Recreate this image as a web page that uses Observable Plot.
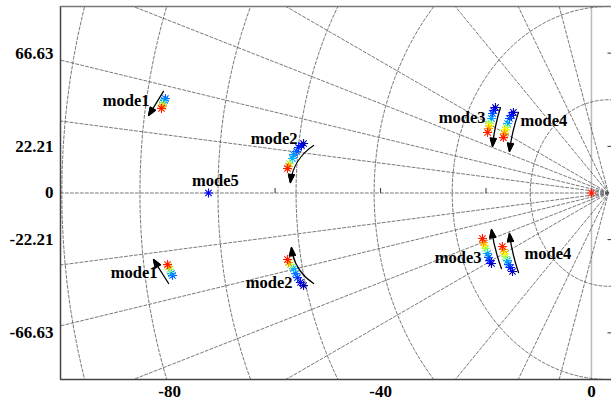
<!DOCTYPE html>
<html><head><meta charset="utf-8">
<script src="https://cdn.jsdelivr.net/npm/d3@7"></script>
<script src="https://cdn.jsdelivr.net/npm/@observablehq/plot@0.6"></script>
<style>body{margin:0;background:#fff} svg{display:block}</style>
</head><body><div id="chart"></div>
<script>
// ---- axes / grid settings ----
const xTicks = [-80, -40, 0];
const yTicks = [66.63, 22.21, 0, -22.21, -66.63];
const zeroLineTicks = [-60, -40, -20];
const xDomain = [-100.7, 3.8];
const yDomain = [-88.84, 88.84];
const wnStep = 14.807;            // natural-frequency circle spacing
const wnLevels = [1, 2, 3, 4, 5, 6, 7];
const dampingRatios = [0.3, 0.5, 0.7, 0.9, 0.95, 0.98, 0.994, 1];
const gridCenterX = 3.2;
const gridYRatio = 3;

// ---- trails: [real, imag, gain] (gain drives the colour) ----
const mode1Upper = [[-81.55,40.3,0.85],[-81.36,41.2,0.7],[-81.36,42.2,0.55],[-81.17,43.1,0.3],[-80.98,44.1,0.26],[-80.8,45.0,0.22]];
const mode1Lower = [[-80.4,-34.1,0.85],[-80.2,-35.0,0.7],[-80.0,-36.4,0.5],[-79.65,-38.4,0.27],[-79.46,-39.3,0.22]];
const mode2Upper = [[-57.65,11.65,0.85],[-57.46,12.6,0.72],[-57.27,14.05,0.55],[-56.7,16.4,0.3],[-56.5,18.3,0.26],[-55.9,19.8,0.2],[-55.56,21.7,0.15],[-55.0,22.6,0.09],[-54.6,23.6,0.04]];
const mode2Lower = [[-57.65,-31.7,0.85],[-57.46,-33.1,0.72],[-57.1,-34.1,0.55],[-56.5,-36.0,0.3],[-56.1,-38.4,0.24],[-55.75,-40.3,0.17],[-55.2,-42.6,0.09],[-54.6,-44.1,0.04]];
const mode3Upper = [[-19.7,28.8,0.85],[-19.5,30.7,0.72],[-19.35,32.2,0.62],[-19.35,33.1,0.5],[-18.96,35.5,0.28],[-18.77,37.9,0.2],[-18.6,39.3,0.12],[-18.2,40.7,0.05]];
const mode4Upper = [[-16.7,26.4,0.85],[-16.5,28.3,0.72],[-16.3,30.3,0.62],[-16.12,31.2,0.5],[-15.93,33.1,0.28],[-15.55,35.5,0.2],[-15.17,36.9,0.12],[-14.8,38.4,0.05]];
const mode3Lower = [[-20.67,-21.7,0.85],[-20.48,-23.6,0.72],[-20.3,-25.0,0.62],[-20.1,-26.4,0.5],[-19.7,-28.8,0.28],[-19.5,-30.7,0.2],[-19.35,-32.2,0.12],[-18.96,-33.6,0.05]];
const mode4Lower = [[-16.9,-25.5,0.85],[-16.7,-26.9,0.72],[-16.5,-28.8,0.62],[-16.3,-30.3,0.5],[-15.93,-32.2,0.28],[-15.74,-34.1,0.2],[-15.36,-35.5,0.12],[-14.98,-37.4,0.05]];
const mode5 = [[-72.63, 0, 0.12]];
const originPole = [[0, 0, 0.85]];

// ---- arrows: [x1, y1, x2, y2] grouped by curvature ----
const arrowsStraight = [
  [-81.17, 48.4, -84.0, 36.9],
  [-80.2, -43.1, -83.06, -31.7]
];
const arrowsCurvedA = [[-52.7, 22.6, -57.1, 5.0]];
const arrowsCurvedB = [[-52.7, -43.1, -56.9, -26.0]];
const arrowsSlightA = [[-17.26, 40.7, -18.77, 22.2], [-13.84, 38.4, -15.55, 19.8]];
const arrowsSlightB = [[-17.07, -36.0, -18.96, -17.4], [-13.84, -37.9, -15.55, -19.3]];

// ---- labels ----
const labelsLeft = [["mode1",-83.8,44.1],["mode1",-82.3,-37.9],["mode2",-55.75,26.0],["mode2",-56.7,-42.6],["mode5",-66.9,6.0],["mode3",-20.1,36.0],["mode3",-20.86,-30.7]];
const labelsRight = [["mode4",-13.46,34.5],["mode4",-12.7,-28.8]];

// ---------------------------------------------------------------
const points = [mode1Upper, mode1Lower, mode2Upper, mode2Lower, mode3Upper, mode4Upper, mode3Lower, mode4Lower, mode5, originPole]
  .flat().map(([x, y, g]) => ({x, y, g})).sort((a, b) => a.g - b.g);

const arcs = [];
for (const k of wnLevels) {
  const r = k * wnStep;
  for (let i = 0; i <= 360; i += 2) {
    const a = i * Math.PI / 180;
    arcs.push({k, x: gridCenterX + r * Math.cos(a), y: gridYRatio * r * Math.sin(a)});
  }
}
const rays = [];
dampingRatios.forEach((z, i) => {
  const th = Math.acos(z);
  for (const s of (z === 1 ? [1] : [1, -1])) {
    const id = i + "_" + s;
    rays.push({id, x: gridCenterX, y: 0});
    rays.push({id, x: gridCenterX - 300 * Math.cos(th), y: s * gridYRatio * 300 * Math.sin(th)});
  }
});

const asterisk = {draw(ctx, size) {
  const r = Math.sqrt(size / Math.PI), d = r * Math.SQRT1_2;
  ctx.moveTo(-r, 0); ctx.lineTo(r, 0);
  ctx.moveTo(0, -r); ctx.lineTo(0, r);
  ctx.moveTo(-d, -d); ctx.lineTo(d, d);
  ctx.moveTo(-d, d); ctx.lineTo(d, -d);
}};
const vTick = {draw(ctx, size) { const r = Math.sqrt(size / Math.PI); ctx.moveTo(0, -r); ctx.lineTo(0, 0); }};
const hTick = {draw(ctx, size) { const r = Math.sqrt(size / Math.PI); ctx.moveTo(-r, 0); ctx.lineTo(0, 0); }};

const jet = d3.scaleLinear()
  .domain([0, 0.125, 0.375, 0.625, 0.875, 1])
  .range(["#00007f", "#0000ff", "#00ffff", "#ffff00", "#ff0000", "#7f0000"]);

const gridStyle = {stroke: "#555", strokeWidth: 0.8, strokeDasharray: "3,2", clip: true};
const arrowOpts = bend => ({x1: d => d[0], y1: d => d[1], x2: d => d[2], y2: d => d[3], bend, stroke: "black", strokeWidth: 1.3, headLength: 10, headAngle: 40});

const chart = Plot.plot({
  width: 611, height: 403,
  marginLeft: 60, marginRight: 0, marginTop: 6, marginBottom: 24,
  x: {domain: xDomain, label: null},
  y: {domain: yDomain, label: null},
  color: {type: "linear", domain: [0, 1], interpolate: jet},
  style: {fontFamily: "'Liberation Serif', 'Times New Roman', serif", fontSize: "17px", color: "black", background: "white"},
  marks: [
    Plot.ruleX([0], {stroke: "#bbb", strokeWidth: 1.5}),
    Plot.line(arcs, {x: "x", y: "y", z: "k", curve: "linear", ...gridStyle}),
    Plot.line(rays, {x: "x", y: "y", z: "id", ...gridStyle}),
    Plot.dot(zeroLineTicks, {x: d => d, y: 0, symbol: vTick, r: 5, stroke: "#333", strokeWidth: 1}),
    Plot.dot(yTicks.filter(d => d !== 0), {x: xDomain[1], y: d => d, symbol: hTick, r: 4, stroke: "#333", strokeWidth: 1}),
    Plot.ruleX([xDomain[0]], {stroke: "#444", strokeWidth: 1.5}),
    Plot.ruleY([yDomain[0]], {stroke: "#444", strokeWidth: 1.5}),
    Plot.ruleY([yDomain[1]], {stroke: "#777", strokeWidth: 1.5}),
    Plot.arrow(arrowsStraight, arrowOpts(0)),
    Plot.arrow(arrowsCurvedA, arrowOpts(-25)),
    Plot.arrow(arrowsCurvedB, arrowOpts(25)),
    Plot.arrow(arrowsSlightA, arrowOpts(-6)),
    Plot.arrow(arrowsSlightB, arrowOpts(6)),
    Plot.dot(points, {x: "x", y: "y", stroke: "g", symbol: asterisk, r: 4.5, strokeWidth: 1.1}),
    Plot.text(labelsLeft, {x: d => d[1], y: d => d[2], text: d => d[0], textAnchor: "end", fontWeight: "bold", fontSize: 16.5}),
    Plot.text(labelsRight, {x: d => d[1], y: d => d[2], text: d => d[0], textAnchor: "start", fontWeight: "bold", fontSize: 16.5}),
    Plot.axisX(xTicks, {tickSize: 0, tickPadding: 5, tickFormat: d => String(d), fontWeight: "bold", label: null}),
    Plot.axisY(yTicks, {tickSize: 0, tickPadding: 7, tickFormat: d => String(d), fontWeight: "bold", label: null})
  ]
});
// fill the arrow heads (solid triangles)
chart.querySelectorAll('g[aria-label="arrow"] path').forEach(p => {
  const d = p.getAttribute("d");
  const i = d.lastIndexOf("M");
  if (i > 0) {
    const head = p.cloneNode();
    head.setAttribute("d", d.slice(i) + "Z");
    head.setAttribute("fill", "black");
    p.parentNode.appendChild(head);
  }
});
document.getElementById("chart").append(chart);
</script>
</body></html>
